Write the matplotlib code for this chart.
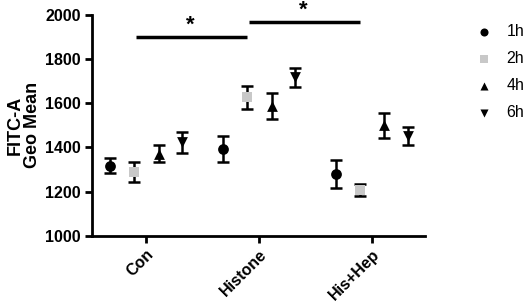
import matplotlib
matplotlib.use("Agg")
import matplotlib.pyplot as plt
import numpy as np

plt.rcParams['font.family'] = ['Liberation Sans', 'DejaVu Sans']

categories = ["Con", "Histone", "His+Hep"]
series = ["1h", "2h", "4h", "6h"]
means = {
    "1h": [1317, 1393, 1280],
    "2h": [1290, 1628, 1207],
    "4h": [1372, 1587, 1500],
    "6h": [1424, 1718, 1452],
}
errs = {
    "1h": [35, 58, 64],
    "2h": [46, 52, 28],
    "4h": [40, 60, 58],
    "6h": [48, 43, 42],
}
sig_pairs = [((0, "2h"), (1, "2h"), 1900), ((1, "2h"), (2, "2h"), 1970)]

markers = {"1h": "o", "2h": "s", "4h": "^", "6h": "v"}
colors = {"1h": "black", "2h": "#c8c8c8", "4h": "black", "6h": "black"}
offsets = {"1h": -0.32, "2h": -0.11, "4h": 0.11, "6h": 0.32}

fig = plt.figure(figsize=(5.32, 3.05), dpi=100)
ax = fig.add_axes([0.173, 0.227, 0.626, 0.724])

x = np.arange(len(categories))
handles = []
for s in series:
    xs = x + offsets[s]
    ax.errorbar(xs, means[s], yerr=errs[s], fmt="none", ecolor="black",
                elinewidth=1.8, capsize=4, capthick=1.8, zorder=2)
    h = ax.scatter(xs, means[s], marker=markers[s], color=colors[s], s=60,
                   zorder=3, label=s, linewidths=0)
    handles.append(h)

for (c1, s1), (c2, s2), yv in sig_pairs:
    x1 = c1 + offsets[s1]
    x2 = c2 + offsets[s2]
    ax.plot([x1 + 0.02, x2], [yv, yv], color="black", lw=2.5, clip_on=False,
            solid_capstyle="butt")
    ax.text((x1 + x2) / 2, yv + 5, "*", ha="center", va="bottom",
            fontsize=16, fontweight="bold")

ax.set_xlim(-0.48, 2.47)
ax.set_ylim(1000, 2000)
ax.set_yticks([1000, 1200, 1400, 1600, 1800, 2000])
ax.set_xticks(x)
ax.set_xticklabels(categories, rotation=45, ha="right", rotation_mode="anchor",
                   fontweight="bold", fontsize=11.5)
for lab in ax.get_yticklabels():
    lab.set_fontweight("bold")
    lab.set_fontsize(11.5)
ax.spines["top"].set_visible(False)
ax.spines["right"].set_visible(False)
ax.spines["left"].set_linewidth(2)
ax.spines["bottom"].set_linewidth(2)
ax.tick_params(width=2, length=5, pad=3)
ax.set_ylabel("FITC-A\nGeo Mean", fontweight="bold", fontsize=13, labelpad=3,
              linespacing=1.05)

fig.legend(handles=handles, labels=series, loc="upper left",
           bbox_to_anchor=(0.895, 0.92), frameon=False, fontsize=11.5,
           labelspacing=0.75, handletextpad=0.9, handlelength=1.0,
           markerscale=0.75, borderpad=0, borderaxespad=0)

fig.savefig("out.png", dpi=100)
